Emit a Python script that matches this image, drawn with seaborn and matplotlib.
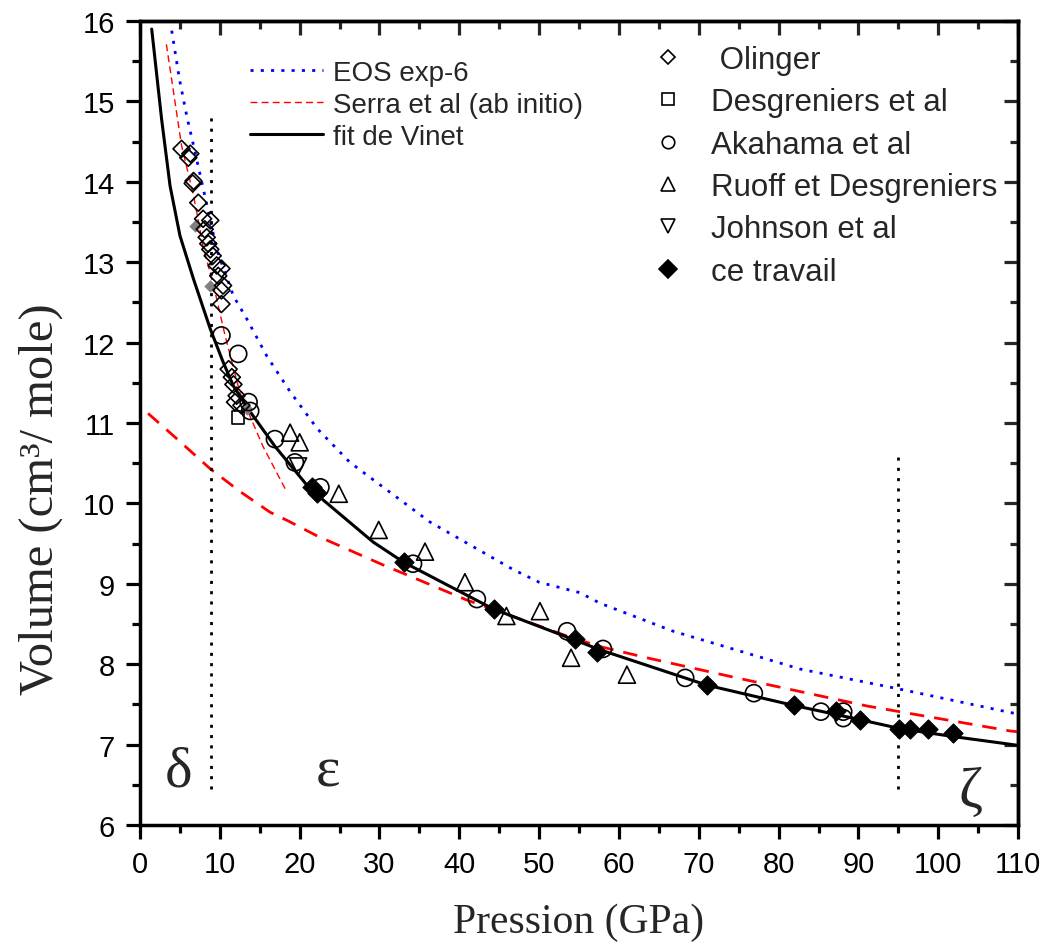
import matplotlib
matplotlib.use("Agg")
import matplotlib.pyplot as plt
import seaborn as sns
import numpy as np
import pandas as pd
from matplotlib.lines import Line2D
from matplotlib.ticker import MultipleLocator

# ---------------- data ----------------
# Curves
vinet_P = [1.46, 2.7, 3.76, 5.0, 6.7, 8.8, 10.4, 11.7, 13.8, 16.9, 21.3, 29.2,
           33.0, 44.2, 50.0, 54.5, 57.6, 64.0, 71.0, 81.8, 90.2, 95.2, 101.9, 108.6, 110.0]
vinet_V = [15.9, 14.78, 13.95, 13.33, 12.79, 12.17, 11.76, 11.46, 11.14, 10.71, 10.18, 9.52,
           9.27, 8.69, 8.47, 8.30, 8.18, 7.97, 7.74, 7.49, 7.31, 7.20, 7.10, 7.01, 6.99]

exp6_P = [3.97, 4.93, 5.85, 6.89, 7.93, 9.6, 11.7, 13.4, 15.9, 18.8, 22.2, 26.3, 31.3,
          36.3, 46.7, 50.0, 55.1, 57.6, 66.8, 70.2, 82.7, 95.2, 109.0, 110.0]
exp6_V = [15.88, 15.28, 14.82, 14.37, 13.91, 13.16, 12.58, 12.29, 11.83, 11.39, 10.93, 10.51, 10.14,
          9.77, 9.18, 9.02, 8.89, 8.76, 8.41, 8.31, 7.94, 7.69, 7.40, 7.38]

serra_P = [3.3, 5.2, 6.7, 7.9, 9.4, 10.65, 12.5, 15.4, 18.4]
serra_V = [15.71, 14.45, 13.83, 13.2, 12.63, 12.09, 11.38, 10.71, 10.14]

serra2_P = [1.0, 4.2, 8.8, 12.5, 16.3, 18.4, 22.1, 30.1, 40.9, 44.3, 53.5, 57.6, 63.5,
            74.3, 91.1, 109.0, 110.0]
serra2_V = [11.12, 10.84, 10.43, 10.15, 9.89, 9.79, 9.60, 9.25, 8.80, 8.68, 8.35, 8.22, 8.08,
            7.84, 7.48, 7.17, 7.16]

# phase boundaries
boundary_P = [8.85, 94.9]
boundary_top = [14.87, 10.65]
boundary_bottom = [6.45, 6.45]

# Experimental points
olinger_P = [5.2, 6.3, 6.05, 6.7, 6.6, 7.3, 7.9, 8.8, 8.1, 8.35, 8.55, 8.8, 9.1, 9.6, 10.2,
             9.8, 10.4, 10.2, 10.2, 11.1, 11.5, 11.7, 12.1, 11.9, 12.7]
olinger_V = [14.41, 14.35, 14.30, 14.01, 13.98, 13.74, 13.54, 13.52, 13.41, 13.31, 13.23, 13.16,
             13.08, 12.96, 12.92, 12.83, 12.71, 12.65, 12.48, 11.67, 11.57, 11.48, 11.34, 11.26, 11.22]

grey_P = [6.9, 8.8, 13.4]
grey_V = [13.45, 12.71, 11.17]

desg_P = [12.3]
desg_V = [11.07]

akahama_P = [10.2, 12.3, 13.6, 13.8, 16.9, 19.4, 22.6, 34.2, 42.2, 53.5, 58.0, 68.3, 76.9,
             85.3, 88.1, 88.1]
akahama_V = [12.09, 11.86, 11.26, 11.15, 10.80, 10.51, 10.20, 9.25, 8.81, 8.41, 8.19, 7.83, 7.64,
             7.41, 7.41, 7.33]

ruoff_P = [18.8, 20.0, 24.9, 29.9, 35.7, 40.7, 45.9, 50.1, 54.0, 61.0]
ruoff_V = [10.88, 10.76, 10.12, 9.67, 9.40, 9.02, 8.60, 8.66, 8.08, 7.87]

johnson_P = [19.8]
johnson_V = [10.46]

travail_P = [21.6, 22.2, 33.1, 44.3, 54.5, 57.3, 71.0, 81.9, 87.2, 90.2, 95.1, 96.5, 98.7, 101.9]
travail_V = [10.20, 10.13, 9.27, 8.69, 8.31, 8.15, 7.74, 7.49, 7.42, 7.31, 7.19, 7.19, 7.19, 7.15]

line_labels = ["EOS exp-6", "Serra et al (ab initio)", "fit de Vinet"]
point_labels = [" Olinger", "Desgreniers et al", "Akahama et al", "Ruoff et Desgreniers",
                "Johnson et al", "ce travail"]
phase_labels = ["\u03b4", "\u03b5", "\u03b6"]
phase_P = [4.8, 23.6, 104.0]
phase_V = [6.49, 6.49, 6.24]

# ---------------- style ----------------
sns.set_style("ticks")
plt.rcParams["font.family"] = ["Liberation Sans", "DejaVu Sans"]
SERIF = ["Liberation Serif", "DejaVu Serif"]

fig = plt.figure(figsize=(10.49, 9.45), dpi=100)
ax = fig.add_axes([0.1335, 0.1259, 0.837, 0.8508])

# curves
sns.lineplot(x=exp6_P, y=exp6_V, sort=False, estimator=None, ax=ax, color="#0000ff",
             linewidth=2.0, legend=False)
ax.lines[-1].set_linestyle((0, (1.1, 2.6)))
l_exp6 = ax.lines[-1]

sns.lineplot(x=serra_P, y=serra_V, sort=False, estimator=None, ax=ax, color="#ff0000",
             linewidth=1.0, legend=False)
ax.lines[-1].set_linestyle((0, (5, 3)))
l_serra = ax.lines[-1]

sns.lineplot(x=serra2_P, y=serra2_V, sort=False, estimator=None, ax=ax, color="#ff0000",
             linewidth=2.0, legend=False)
ax.lines[-1].set_linestyle((0, (5.2, 3.6)))

sns.lineplot(x=vinet_P, y=vinet_V, sort=False, estimator=None, ax=ax, color="black",
             linewidth=2.2, legend=False)
l_vinet = ax.lines[-1]

for p, top, bot in zip(boundary_P, boundary_top, boundary_bottom):
    ax.plot([p, p], [bot, top], color="black", linewidth=2.0, linestyle=(0, (1.1, 2.6)))

# points
def pts(x, y, marker, s, filled=False, fc="black", lw=1.2, z=3):
    sns.scatterplot(x=x, y=y, marker=marker, s=s, color=fc, edgecolor="black",
                    linewidth=lw, ax=ax, zorder=z, legend=False)
    if not filled:
        ax.collections[-1].set_facecolor("none")

pts(grey_P, grey_V, "D", 40, filled=True, fc="#808080", lw=0, z=2)
pts(olinger_P, olinger_V, "D", 75)
pts(desg_P, desg_V, "s", 80)
pts(akahama_P, akahama_V, "o", 150)
pts(ruoff_P, ruoff_V, "^", 150)
pts(johnson_P, johnson_V, "v", 150)
pts(travail_P, travail_V, "D", 95, filled=True, fc="black", lw=0.8, z=4)

# phase labels
for t, p, v in zip(phase_labels, phase_P, phase_V):
    ax.text(p, v, t, fontsize=42, ha="center", va="baseline", family=SERIF)

# axes
ax.set_xlim(0, 110)
ax.set_ylim(6, 16)
ax.xaxis.set_major_locator(MultipleLocator(10))
ax.xaxis.set_minor_locator(MultipleLocator(5))
ax.yaxis.set_major_locator(MultipleLocator(1))
ax.yaxis.set_minor_locator(MultipleLocator(0.5))
ax.tick_params(which="major", direction="out", length=10, width=2.3, labelsize=21, pad=8,
               color="black", labelcolor="black")
ax.tick_params(which="minor", direction="out", length=6, width=2.3, color="black")
for sp in ax.spines.values():
    sp.set_visible(True)
    sp.set_linewidth(2.5)
    sp.set_color("black")

secx = ax.secondary_xaxis("top")
secx.xaxis.set_major_locator(MultipleLocator(10))
secx.xaxis.set_minor_locator(MultipleLocator(5))
secx.tick_params(which="major", direction="in", length=10, width=2.3, labeltop=False)
secx.tick_params(which="minor", direction="in", length=6, width=2.3)
secx.spines["top"].set_linewidth(2.5)

secy = ax.secondary_yaxis("right")
secy.yaxis.set_major_locator(MultipleLocator(1))
secy.yaxis.set_minor_locator(MultipleLocator(0.5))
secy.tick_params(which="major", direction="in", length=10, width=2.3, labelright=False)
secy.tick_params(which="minor", direction="in", length=6, width=2.3)
secy.spines["right"].set_linewidth(2.5)

ax.set_xlabel("Pression (GPa)", fontsize=30, family=SERIF)
ax.set_ylabel("Volume (cm\u00b3/ mole)", fontsize=35, family=SERIF)
ax.xaxis.set_label_coords(0.50, -0.096)
ax.yaxis.set_label_coords(-0.0877, 0.406)

# legends
leg1 = ax.legend(handles=[l_exp6, l_serra, l_vinet], labels=line_labels, loc="upper left",
                 bbox_to_anchor=(0.125, 0.9515), frameon=False, fontsize=20,
                 handlelength=2.65, handletextpad=0.35, labelspacing=0.21,
                 borderpad=0, borderaxespad=0)
ax.add_artist(leg1)

mk = dict(linestyle="none", markeredgecolor="black", markeredgewidth=1.2)
handles2 = [
    Line2D([], [], marker="D", markersize=7.5, markerfacecolor="none", **mk),
    Line2D([], [], marker="s", markersize=8.0, markerfacecolor="none", **mk),
    Line2D([], [], marker="o", markersize=9.0, markerfacecolor="none", **mk),
    Line2D([], [], marker="^", markersize=10.0, markerfacecolor="none", **mk),
    Line2D([], [], marker="v", markersize=10.0, markerfacecolor="none", **mk),
    Line2D([], [], marker="D", markersize=9.0, markerfacecolor="black", **mk),
]
leg2 = ax.legend(handles=handles2, labels=point_labels, loc="upper left",
                 bbox_to_anchor=(0.584, 0.970), frameon=False, fontsize=22.5,
                 handlelength=1.0, handletextpad=0.85, labelspacing=0.393,
                 borderpad=0, borderaxespad=0)

fig.savefig("out.png", dpi=100)
